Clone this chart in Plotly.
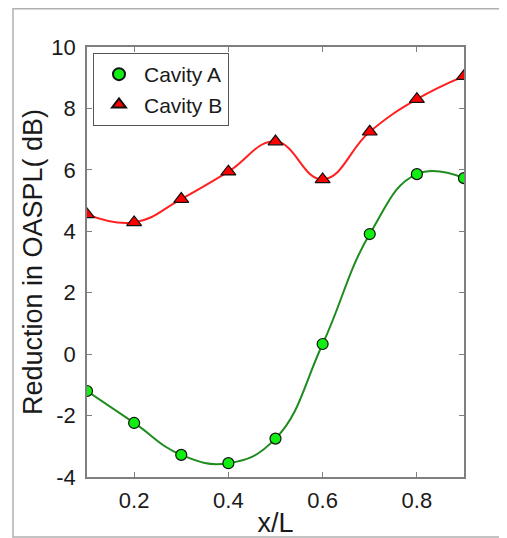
import plotly.graph_objects as go

x_vals = [0.1, 0.2, 0.3, 0.4, 0.5, 0.6, 0.7, 0.8, 0.9]
cavity_a = [-1.20, -2.24, -3.28, -3.55, -2.75, 0.33, 3.91, 5.86, 5.73]
cavity_b = [4.55, 4.29, 5.05, 5.94, 6.92, 5.69, 7.24, 8.30, 9.05]
x_ticks = [0.2, 0.4, 0.6, 0.8]
y_ticks = [-4, -2, 0, 2, 4, 6, 8, 10]

FONT = "Liberation Sans, Arial, sans-serif"
AXC = "#7f7f7f"

fig = go.Figure()
fig.add_trace(go.Scatter(x=x_vals, y=cavity_b, mode="lines", line=dict(color="#ff2020", width=2, shape="spline", smoothing=1.25), showlegend=False, hoverinfo="skip"))
fig.add_trace(go.Scatter(x=x_vals, y=cavity_a, mode="lines", line=dict(color="#1e8c1e", width=2, shape="spline", smoothing=1.25), showlegend=False, hoverinfo="skip"))
fig.add_trace(go.Scatter(x=x_vals, y=cavity_a, mode="markers", name="Cavity A",
                         marker=dict(symbol="circle", size=11, color="#11ee11", line=dict(color="#111111", width=1.2))))
fig.add_trace(go.Scatter(x=x_vals, y=cavity_b, mode="markers", name="Cavity B",
                         marker=dict(symbol="triangle-up", size=13, color="#ff0000", line=dict(color="#111111", width=1.2))))

# page body adds an 8px offset; layout expressed in figure coordinates
OFF = 8
W, H = 507 - OFF, 538 - OFF
L, R, T, B = 87 - OFF, 464 - OFF, 47 - OFF, 477 - OFF
pw, ph = R - L, B - T

def px(xp):
    return (xp - L) / pw

def py(yp):
    return (B - yp) / ph

fig.add_shape(type="rect", xref="paper", yref="paper",
              x0=px(13 - OFF), x1=px(W + 5), y0=py(H - 1), y1=py(0.8),
              line=dict(color="#b0b0b0", width=1.5), fillcolor="rgba(0,0,0,0)", layer="below")

fig.update_layout(
    width=W, height=H,
    margin=dict(l=L, r=W - R, t=T, b=H - B, autoexpand=False),
    paper_bgcolor="white", plot_bgcolor="white",
    font=dict(family=FONT, color="#1a1a1a", size=21),
    legend=dict(x=px(93 - OFF), y=py(53 - OFF), xanchor="left", yanchor="top",
                bordercolor="#555555", borderwidth=1, bgcolor="white",
                font=dict(size=21, family=FONT), itemsizing="constant",
                itemwidth=40, tracegroupgap=0),
    showlegend=True,
)
fig.update_xaxes(range=[0.1, 0.9], tickvals=x_ticks, ticktext=[str(v) for v in x_ticks],
                 showgrid=False, zeroline=False, showline=True, linecolor=AXC, linewidth=1.5,
                 mirror="ticks", ticks="inside", ticklen=5, tickcolor=AXC, automargin=False,
                 tickfont=dict(size=22, family=FONT), ticklabelstandoff=3,
                 title=dict(text="x/L", font=dict(size=27, family=FONT), standoff=1))
fig.update_yaxes(range=[-4, 10], tickvals=y_ticks, ticktext=[str(v) for v in y_ticks],
                 showgrid=False, zeroline=False, showline=True, linecolor=AXC, linewidth=1.5,
                 mirror="ticks", ticks="inside", ticklen=5, tickcolor=AXC, automargin=False,
                 tickfont=dict(size=22, family=FONT), ticklabelstandoff=5,
                 title=dict(text="Reduction in OASPL( dB)", font=dict(size=27, family=FONT), standoff=1))

fig.write_html("out.html")
